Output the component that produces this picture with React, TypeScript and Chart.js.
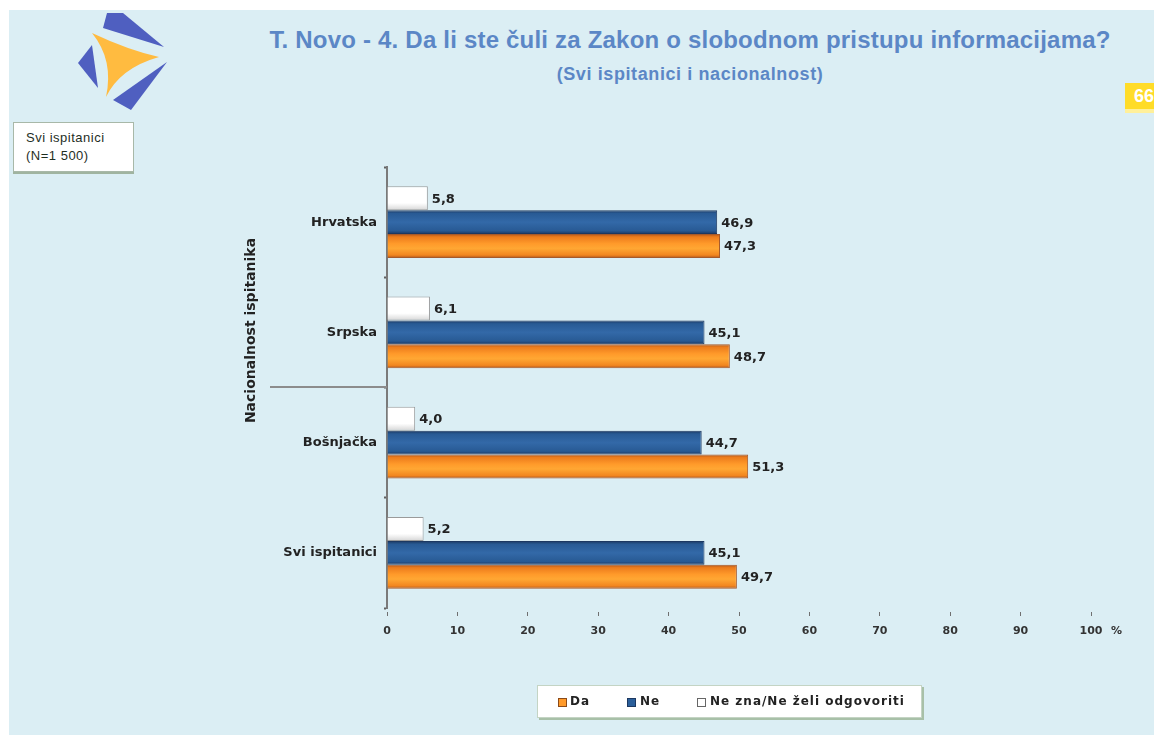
import React, { useEffect, useRef } from 'react';
import { Chart, registerables } from 'chart.js';

Chart.register(...registerables);

const categories = ['Hrvatska', 'Srpska', 'Bošnjačka', 'Svi ispitanici'];
const seriesLabels = ['Da', 'Ne', 'Ne zna/Ne želi odgovoriti'];
const daValues = [47.3, 48.7, 51.3, 49.7];
const neValues = [46.9, 45.1, 44.7, 45.1];
const neZnaValues = [5.8, 6.1, 4.0, 5.2];
const xTickValues = [0, 10, 20, 30, 40, 50, 60, 70, 80, 90, 100];

const titleText = 'T. Novo - 4. Da li ste čuli za Zakon o slobodnom pristupu informacijama?';
const subtitleText = '(Svi ispitanici i nacionalnost)';
const yAxisTitle = 'Nacionalnost ispitanika';
const sampleLines = ['Svi ispitanici', '(N=1 500)'];
const pageNumber = '66';

const CAT_PCT = 0.65;
const BG = '#dbeef4';
const FONT = '"DejaVu Sans", Verdana, sans-serif';

type Stop = [number, string];
const daStops: Stop[] = [[0, '#b0561c'], [0.12, '#ec7c1c'], [0.4, '#ff9a2a'], [0.6, '#ffa733'], [0.88, '#f2861f'], [1, '#b0561c']];
const neStops: Stop[] = [[0, '#1c3861'], [0.14, '#285a94'], [0.5, '#3369a8'], [0.86, '#285a94'], [1, '#1c3861']];
const neZnaStops: Stop[] = [[0, '#ffffff'], [0.7, '#ffffff'], [1, '#d6d6d6']];

function barFill(stops: Stop[], fallback: string) {
  return (ctx: any) => {
    const chart = ctx.chart;
    const y = chart.scales && chart.scales.y;
    if (!y || ctx.type !== 'data' || ctx.dataIndex === undefined) return fallback;
    const band = y.getPixelForValue(1) - y.getPixelForValue(0);
    if (!isFinite(band) || band <= 0) return fallback;
    const groupH = band * CAT_PCT;
    const barH = groupH / 3;
    const top = y.getPixelForValue(ctx.dataIndex) - groupH / 2 + ctx.datasetIndex * barH;
    const g = chart.ctx.createLinearGradient(0, top, 0, top + barH);
    stops.forEach(([o, c]) => g.addColorStop(o, c));
    return g;
  };
}

const extrasPlugin = {
  id: 'extras',
  afterDatasetsDraw(chart: any) {
    const c = chart.ctx;
    const ys = chart.scales.y;
    const xs = chart.scales.x;
    const area = chart.chartArea;
    c.save();
    c.font = `bold 13px ${FONT}`;
    c.fillStyle = '#222222';
    c.textBaseline = 'middle';
    c.textAlign = 'left';
    chart.data.datasets.forEach((ds: any, di: number) => {
      const meta = chart.getDatasetMeta(di);
      meta.data.forEach((el: any, i: number) => {
        const v = ds.data[i];
        c.fillText(v.toFixed(1).replace('.', ','), el.x + 4, el.y + 1);
      });
    });
    const sepY = Math.round((ys.getPixelForValue(1) + ys.getPixelForValue(2)) / 2) - 1;
    c.strokeStyle = '#8c8c8c';
    c.lineWidth = 2;
    c.beginPath();
    c.moveTo(270, sepY);
    c.lineTo(area.left, sepY);
    c.stroke();
    c.font = `bold 11px ${FONT}`;
    c.fillStyle = '#333333';
    c.fillText('%', xs.getPixelForValue(100) + 20, area.bottom + 23);
    c.translate(251, (area.top + area.bottom) / 2 - 57);
    c.rotate(-Math.PI / 2);
    c.textAlign = 'center';
    c.font = `bold 14px ${FONT}`;
    c.fillStyle = '#222222';
    c.fillText(yAxisTitle, 0, 0);
    c.restore();
  },
};

function Logo() {
  return (
    <svg width="200" height="130" style={{ position: 'absolute', left: 0, top: 0 }}>
      <polygon points="107,13 123,13 164,47 103,28" fill="#4f5fc0" />
      <polygon points="92,45 78,63 98,88" fill="#4f5fc0" />
      <polygon points="167,62 113,100 131,110" fill="#4f5fc0" />
      <path d="M92,33 Q128,50 159,57 Q120,68 106,97 Q114,60 92,33 Z" fill="#ffbb40" />
    </svg>
  );
}

export default function App() {
  const canvasRef = useRef<HTMLCanvasElement | null>(null);

  useEffect(() => {
    if (!canvasRef.current) return;
    const chart = new Chart(canvasRef.current, {
      type: 'bar',
      data: {
        labels: categories,
        datasets: [
          {
            label: seriesLabels[2],
            data: neZnaValues,
            backgroundColor: barFill(neZnaStops, '#ffffff'),
            borderColor: '#9a9a9a',
            borderWidth: 1,
          },
          {
            label: seriesLabels[1],
            data: neValues,
            backgroundColor: barFill(neStops, '#2b5f9a'),
            borderColor: '#1c3861',
            borderWidth: 1,
          },
          {
            label: seriesLabels[0],
            data: daValues,
            backgroundColor: barFill(daStops, '#ff9a2a'),
            borderColor: '#a65a2a',
            borderWidth: 1,
          },
        ],
      },
      options: {
        indexAxis: 'y',
        responsive: false,
        animation: false,
        events: [],
        datasets: { bar: { categoryPercentage: CAT_PCT, barPercentage: 1 } },
        layout: { padding: { top: 167, right: 63, bottom: 0, left: 0 } },
        plugins: {
          legend: { display: false },
          tooltip: { enabled: false },
          title: { display: false },
        },
        scales: {
          x: {
            type: 'linear',
            min: 0,
            max: 100,
            afterFit: (s: any) => { s.height = 127; },
            afterBuildTicks: (s: any) => { s.ticks = xTickValues.map((v) => ({ value: v })); },
            border: { display: false },
            grid: {
              drawOnChartArea: false,
              drawTicks: true,
              tickLength: 8,
              tickColor: '#707070',
              tickWidth: 1,
              tickBorderDash: [4, 4],
              tickBorderDashOffset: 4,
            },
            ticks: {
              padding: 9,
              color: '#333333',
              font: { family: FONT, size: 11, weight: 'bold' },
              callback: (v: any) => String(v),
            },
          },
          y: {
            type: 'category',
            afterFit: (s: any) => { s.width = 387; },
            border: { display: true, color: '#7a7a7a', width: 2 },
            grid: {
              offset: true,
              drawOnChartArea: false,
              drawTicks: true,
              tickLength: 3,
              tickColor: '#606060',
              tickWidth: 2,
            },
            ticks: {
              padding: 7,
              color: '#222222',
              font: { family: FONT, size: 13, weight: 'bold' },
            },
          },
        },
      },
      plugins: [extrasPlugin],
    });
    return () => chart.destroy();
  }, []);

  const legendItems = [
    { label: seriesLabels[0], color: '#ff9a2a', border: '#8a4a1a', box: 20, text: 32 },
    { label: seriesLabels[1], color: '#2b5f9a', border: '#1c3861', box: 89, text: 102 },
    { label: seriesLabels[2], color: '#ffffff', border: '#666666', box: 159, text: 172 },
  ];

  return (
    <div style={{ position: 'fixed', left: 0, top: 0, width: 1154, height: 735, overflow: 'hidden', background: '#ffffff' }}>
      <div style={{ position: 'absolute', left: 9, top: 10, right: 0, bottom: 0, background: BG }} />
      <Logo />
      <div style={{ position: 'absolute', left: 190, top: 26, width: 1000, textAlign: 'center', font: `bold 24px "Liberation Sans", Arial, sans-serif`, lineHeight: '28px', letterSpacing: '0.2px', color: '#5b87c6', whiteSpace: 'nowrap' }}>
        {titleText}
      </div>
      <div style={{ position: 'absolute', left: 190, top: 63, width: 1000, textAlign: 'center', font: `bold 18px "Liberation Sans", Arial, sans-serif`, lineHeight: '22px', letterSpacing: '0.6px', color: '#5b87c6', whiteSpace: 'nowrap' }}>
        {subtitleText}
      </div>
      <div style={{ position: 'absolute', left: 13, top: 122, width: 119, height: 48, background: '#ffffff', border: '1px solid #a8b8a8', boxShadow: '0 2px 0 #a0b4a0', boxSizing: 'content-box' }}>
        {sampleLines.map((t, i) => (
          <div key={i} style={{ position: 'absolute', left: 12, top: 6 + i * 18, font: `13px "Liberation Sans", Arial, sans-serif`, lineHeight: '18px', color: '#1f2f1f', letterSpacing: '0.5px', whiteSpace: 'nowrap' }}>{t}</div>
        ))}
      </div>
      <div style={{ position: 'absolute', left: 1125, top: 83, width: 40, height: 26, background: '#ffdc28', borderBottom: '4px solid #fff09a' }}>
        <div style={{ position: 'absolute', left: 9, top: 2, font: `bold 18px "Liberation Sans", Arial, sans-serif`, lineHeight: '22px', color: '#ffffff' }}>{pageNumber}</div>
      </div>
      <canvas ref={canvasRef} width={1154} height={735} style={{ position: 'absolute', left: 0, top: 0, display: 'block' }} />
      <div style={{ position: 'absolute', left: 537, top: 685, width: 383, height: 31, background: '#ffffff', border: '1px solid #c4d4c4', boxShadow: '2px 2px 0 #a8c0a8' }}>
        {legendItems.map((it, i) => (
          <React.Fragment key={i}>
            <div style={{ position: 'absolute', left: it.box, top: 12, width: 7, height: 7, background: it.color, border: `1px solid ${it.border}` }} />
            <div style={{ position: 'absolute', left: it.text, top: 0, font: `bold 12px ${FONT}`, lineHeight: '31px', letterSpacing: '1px', color: '#222222', whiteSpace: 'nowrap' }}>{it.label}</div>
          </React.Fragment>
        ))}
      </div>
    </div>
  );
}
